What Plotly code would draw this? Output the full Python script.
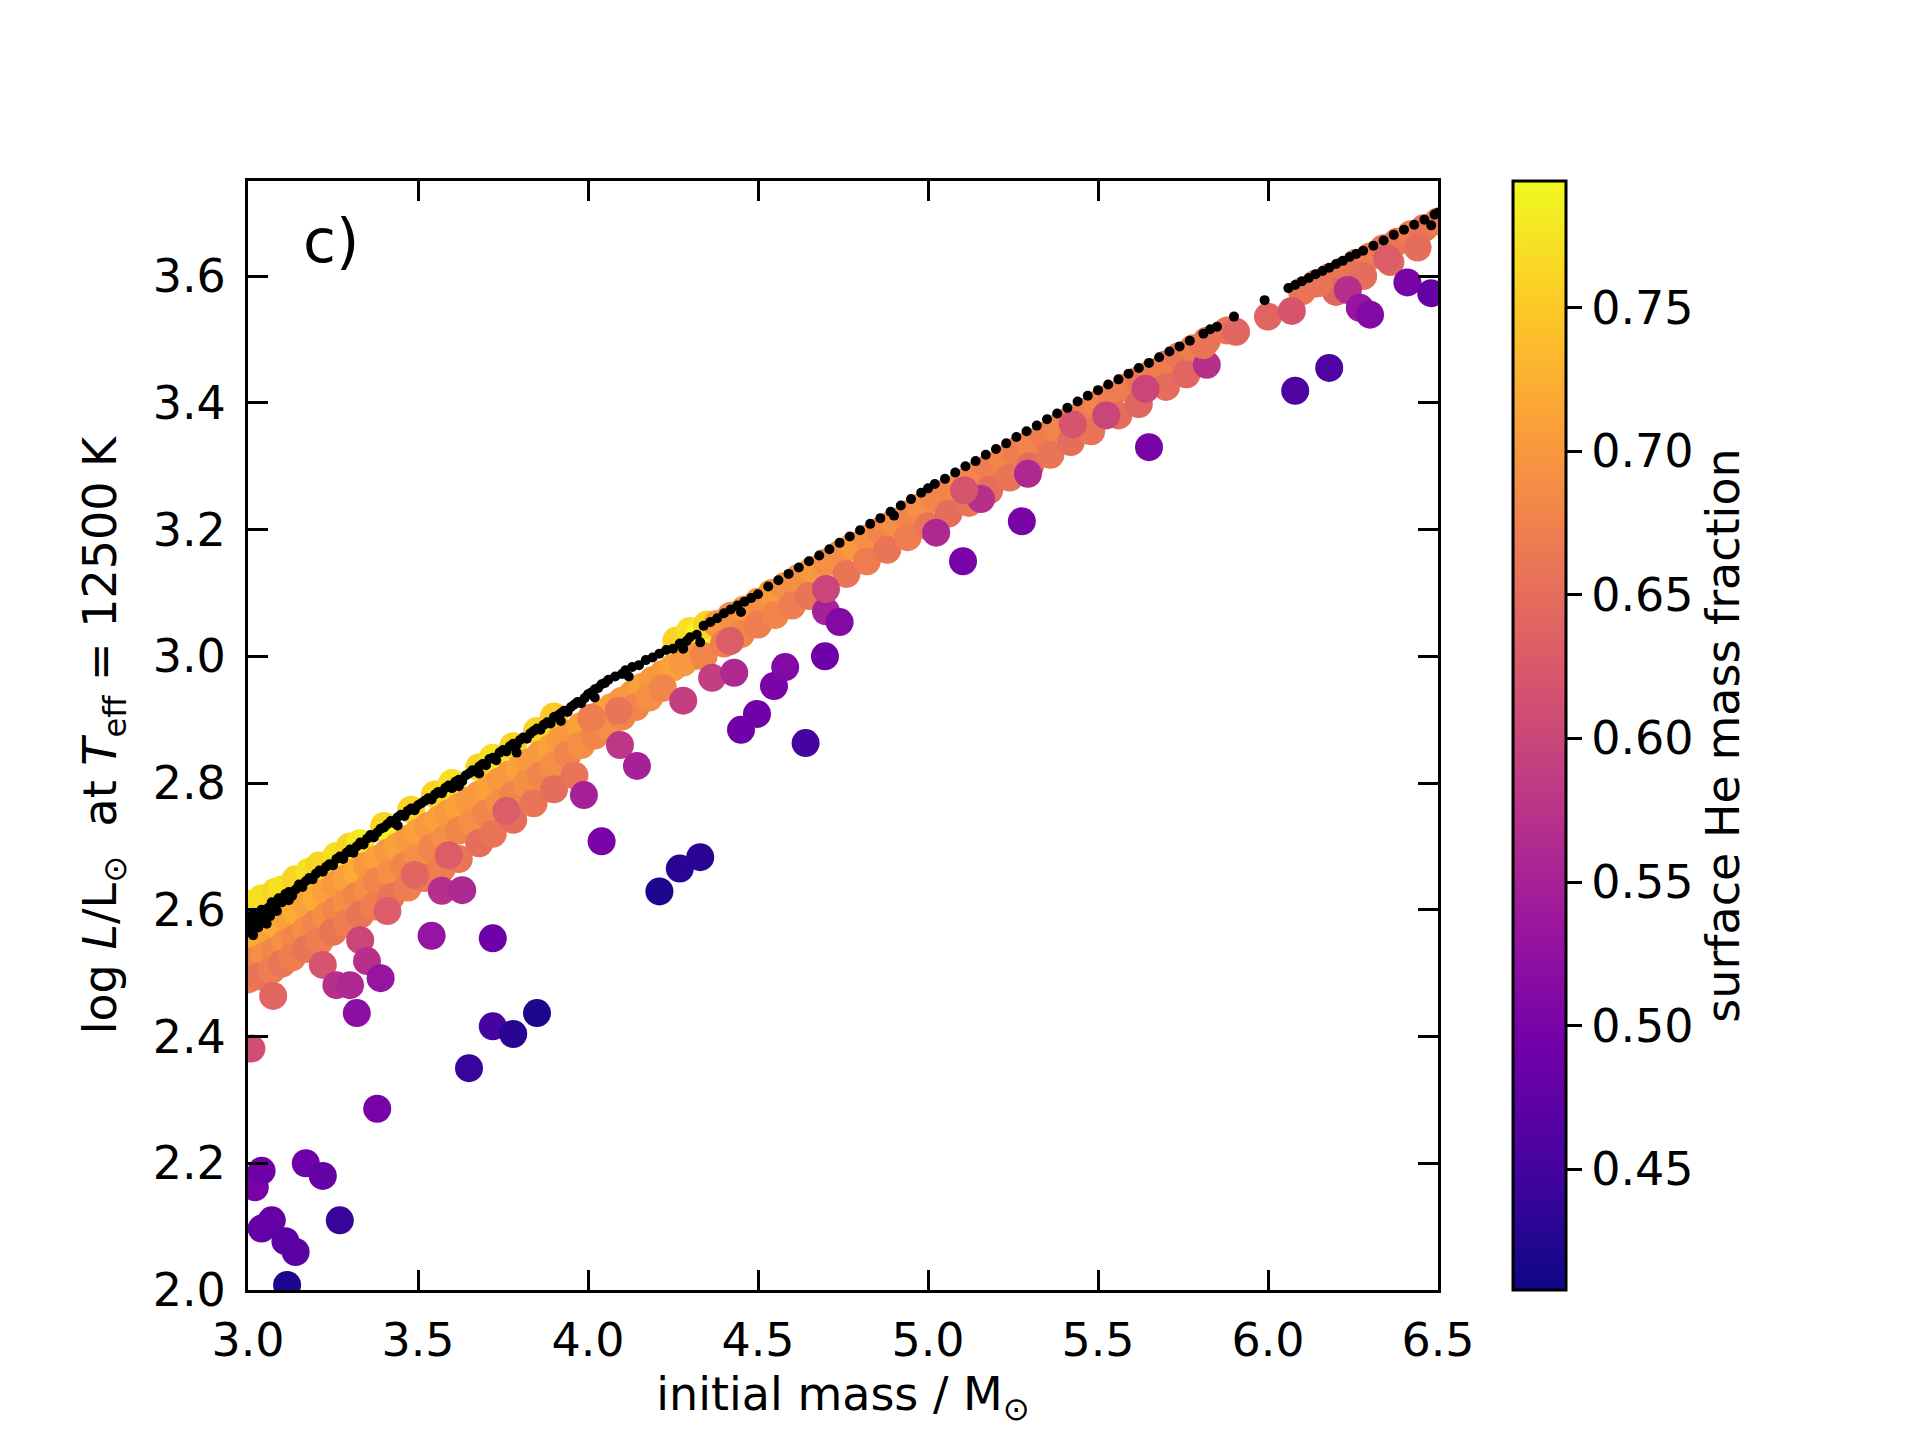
import plotly.graph_objects as go

# black points: reference models (no He enrichment)
ref_mass = [3.00, 3.005, 3.005, 3.01, 3.015, 3.015, 3.02, 3.025, 3.03, 3.03, 3.04, 3.045, 3.05, 3.055,
            3.06, 3.065, 3.07, 3.08, 3.085, 3.09, 3.10, 3.11, 3.12, 3.12, 3.13, 3.14, 3.15, 3.16, 3.17,
            3.18, 3.19, 3.20, 3.21, 3.22, 3.23, 3.24, 3.25, 3.26, 3.27, 3.28, 3.29, 3.30, 3.31, 3.32,
            3.33, 3.34, 3.35, 3.36, 3.37, 3.38, 3.39, 3.40, 3.41, 3.42, 3.43, 3.44, 3.44, 3.45, 3.46,
            3.47, 3.48, 3.49, 3.50, 3.51, 3.52, 3.53, 3.54, 3.55, 3.56, 3.57, 3.58, 3.59, 3.60, 3.61,
            3.62, 3.62, 3.63, 3.64, 3.65, 3.66, 3.67, 3.68, 3.68, 3.69, 3.70, 3.71, 3.72, 3.73, 3.74,
            3.75, 3.76, 3.77, 3.78, 3.79, 3.79, 3.80, 3.81, 3.82, 3.83, 3.84, 3.85, 3.86, 3.87, 3.88,
            3.89, 3.90, 3.91, 3.92, 3.92, 3.93, 3.94, 3.95, 3.96, 3.97, 3.98, 3.99, 4.00, 4.01, 4.02,
            4.02, 4.03, 4.04, 4.05, 4.06, 4.08, 4.10, 4.11, 4.12, 4.13, 4.15, 4.17, 4.19, 4.21, 4.23,
            4.25, 4.27, 4.28, 4.29, 4.30, 4.32, 4.33, 4.34, 4.36, 4.38, 4.40, 4.42, 4.44, 4.45, 4.46,
            4.48, 4.50, 4.53, 4.56, 4.59, 4.62, 4.65, 4.68, 4.71, 4.74, 4.77, 4.80, 4.83, 4.86, 4.89,
            4.90, 4.92, 4.95, 4.98, 5.00, 5.02, 5.05, 5.08, 5.11, 5.14, 5.17, 5.20, 5.23, 5.26, 5.29,
            5.32, 5.35, 5.38, 5.41, 5.44, 5.47, 5.50, 5.53, 5.56, 5.59, 5.62, 5.65, 5.68, 5.71, 5.74,
            5.77, 5.81, 5.83, 5.85, 5.90, 5.99, 6.06, 6.08, 6.10, 6.12, 6.14, 6.16, 6.18, 6.20, 6.22,
            6.24, 6.26, 6.28, 6.31, 6.34, 6.37, 6.40, 6.43, 6.46, 6.48, 6.49, 6.50]
ref_logL = [2.575, 2.590, 2.565, 2.570, 2.585, 2.560, 2.595, 2.578, 2.588, 2.572, 2.600, 2.583, 2.596,
            2.578, 2.603, 2.590, 2.612, 2.606, 2.598, 2.618, 2.612, 2.625, 2.628, 2.615, 2.622, 2.632,
            2.640, 2.636, 2.645, 2.650, 2.648, 2.657, 2.662, 2.660, 2.668, 2.672, 2.670, 2.680, 2.684,
            2.680, 2.690, 2.695, 2.690, 2.700, 2.706, 2.703, 2.712, 2.718, 2.714, 2.722, 2.728, 2.730,
            2.735, 2.740, 2.737, 2.746, 2.733, 2.750, 2.748, 2.756, 2.760, 2.757, 2.765, 2.768, 2.772,
            2.776, 2.774, 2.782, 2.786, 2.784, 2.792, 2.796, 2.792, 2.802, 2.805, 2.795, 2.803, 2.812,
            2.815, 2.820, 2.818, 2.826, 2.815, 2.830, 2.828, 2.838, 2.840, 2.836, 2.848, 2.852, 2.850,
            2.858, 2.862, 2.860, 2.848, 2.868, 2.872, 2.870, 2.878, 2.882, 2.886, 2.884, 2.892, 2.896,
            2.894, 2.904, 2.906, 2.910, 2.898, 2.914, 2.912, 2.920, 2.924, 2.928, 2.926, 2.934, 2.940,
            2.943, 2.948, 2.935, 2.950, 2.956, 2.958, 2.963, 2.968, 2.972, 2.978, 2.968, 2.983, 2.986,
            2.994, 2.998, 3.004, 3.010, 3.012, 3.020, 3.012, 3.024, 3.030, 3.034, 3.022, 3.048, 3.054,
            3.060, 3.068, 3.074, 3.080, 3.070, 3.086, 3.092, 3.098, 3.110, 3.120, 3.130, 3.140, 3.150,
            3.159, 3.169, 3.179, 3.189, 3.199, 3.209, 3.218, 3.228, 3.222, 3.238, 3.248, 3.258, 3.265,
            3.272, 3.280, 3.290, 3.300, 3.308, 3.318, 3.327, 3.336, 3.346, 3.355, 3.364, 3.374, 3.383,
            3.392, 3.402, 3.411, 3.420, 3.429, 3.437, 3.446, 3.455, 3.463, 3.472, 3.481, 3.489, 3.498,
            3.509, 3.516, 3.520, 3.536, 3.562, 3.581, 3.586, 3.592, 3.597, 3.603, 3.608, 3.613, 3.619,
            3.624, 3.630, 3.635, 3.640, 3.648, 3.656, 3.665, 3.673, 3.681, 3.689, 3.680, 3.697, 3.700]

# coloured points: models with surface He mass fraction
model_mass = [
    # yellow, upper edge
    3.00, 3.02, 3.04, 3.08, 3.10, 3.14, 3.18, 3.21, 3.26, 3.30, 3.33, 3.40, 3.42, 3.48, 3.55,
    3.60, 3.68, 3.72, 3.78, 3.85, 3.90, 4.26, 4.30, 4.33, 4.35,
    # orange row
    3.00, 3.02, 3.05, 3.08, 3.11, 3.14, 3.17, 3.20, 3.23, 3.26, 3.29, 3.32, 3.35, 3.38, 3.41,
    3.44, 3.47, 3.50, 3.53, 3.56, 3.59, 3.62, 3.65, 3.68, 3.71, 3.74, 3.77, 3.80, 3.83, 3.86,
    3.89, 3.92, 3.95, 3.98, 4.01, 4.04, 4.07, 4.10, 4.13, 4.16, 4.19, 4.22, 4.25, 4.28, 4.31,
    # third row
    3.00, 3.02, 3.05, 3.08, 3.11, 3.14, 3.17, 3.20, 3.23, 3.26, 3.29, 3.32, 3.35, 3.38, 3.42,
    3.46, 3.50, 3.54, 3.58, 3.62, 3.66, 3.70, 3.74, 3.78, 3.82, 3.86, 3.90, 3.94, 3.98, 4.02,
    4.06, 4.10, 4.14, 4.18, 4.22,
    # fourth row
    3.00, 3.03, 3.07, 3.10, 3.13, 3.17, 3.21, 3.25, 3.29, 3.33, 3.37, 3.42, 3.47, 3.52, 3.57,
    3.62, 3.68, 3.72, 3.78, 3.84, 3.90, 3.96, 4.01, 4.09,
    # higher masses, upper row
    4.38, 4.42, 4.46, 4.50, 4.54, 4.58, 4.62, 4.66, 4.70, 4.74, 4.78, 4.82, 4.86, 4.90, 4.94,
    4.98, 5.02, 5.06, 5.10, 5.14, 5.18, 5.22, 5.26, 5.30, 5.34, 5.38, 5.42, 5.46, 5.50, 5.54,
    5.58, 5.62, 5.66, 5.70, 5.74, 5.78, 5.82, 5.88, 6.10, 6.14, 6.18, 6.22, 6.26, 6.30, 6.34,
    6.38, 6.42, 6.46, 6.50,
    # higher masses, lower row
    4.34, 4.40, 4.45, 4.50, 4.55, 4.60, 4.65, 4.76, 4.82, 4.88, 4.94, 5.00, 5.06, 5.12, 5.18,
    5.24, 5.30, 5.36, 5.42, 5.48, 5.56, 5.62, 5.70, 5.76, 6.20, 6.28, 6.36, 6.44,
    # stragglers below the sequence
    3.074, 3.22, 3.33, 3.41, 3.49, 3.59, 3.76, 3.35, 3.26, 3.30, 3.39, 3.32, 3.54, 3.57, 3.63,
    3.72, 3.01, 3.02, 3.04, 3.04, 3.07, 3.11, 3.14, 3.115, 3.17, 3.22, 3.27, 3.38, 3.65, 3.72,
    3.78, 3.85, 4.21, 4.27, 4.33, 4.094, 4.144, 3.988, 4.04, 4.28, 4.365, 4.43, 4.418, 4.45,
    4.497, 4.547, 4.58, 4.64, 4.697, 4.70, 4.74, 4.70, 5.024, 5.103, 5.156, 5.294, 5.276, 5.65,
    5.524, 5.64, 5.426, 5.106, 5.82, 6.08, 6.18, 6.235, 6.27, 6.30, 6.41, 6.48, 6.00, 6.07,
    5.906, 5.81, 6.35, 6.15,
]
model_logL = [
    2.610, 2.595, 2.618, 2.628, 2.632, 2.648, 2.660, 2.670, 2.685, 2.700, 2.705, 2.732, 2.718,
    2.758, 2.782, 2.800, 2.825, 2.840, 2.858, 2.882, 2.905, 3.025, 3.040, 3.036, 3.050,
    2.555, 2.560, 2.570, 2.578, 2.590, 2.598, 2.608, 2.618, 2.628, 2.640, 2.650, 2.660, 2.670,
    2.680, 2.690, 2.700, 2.712, 2.722, 2.732, 2.742, 2.752, 2.762, 2.772, 2.782, 2.792, 2.803,
    2.814, 2.823, 2.833, 2.845, 2.855, 2.868, 2.878, 2.890, 2.900, 2.910, 2.920, 2.930, 2.940,
    2.952, 2.962, 2.972, 2.982, 2.990, 3.000,
    2.510, 2.520, 2.528, 2.535, 2.548, 2.556, 2.568, 2.578, 2.590, 2.600, 2.612, 2.622, 2.632,
    2.645, 2.658, 2.670, 2.682, 2.698, 2.712, 2.725, 2.738, 2.752, 2.768, 2.782, 2.798, 2.812,
    2.828, 2.845, 2.860, 2.875, 2.890, 2.905, 2.920, 2.935, 2.950,
    2.490, 2.495, 2.505, 2.515, 2.525, 2.538, 2.550, 2.565, 2.578, 2.592, 2.605, 2.620, 2.635,
    2.650, 2.665, 2.680, 2.705, 2.720, 2.742, 2.768, 2.790, 2.812, 2.903, 2.914,
    3.051, 3.064, 3.074, 3.086, 3.100, 3.111, 3.124, 3.136, 3.148, 3.161, 3.174, 3.186, 3.198,
    3.211, 3.224, 3.236, 3.249, 3.261, 3.274, 3.286, 3.298, 3.311, 3.324, 3.336, 3.348, 3.361,
    3.374, 3.386, 3.398, 3.411, 3.424, 3.436, 3.448, 3.461, 3.474, 3.486, 3.498, 3.514, 3.576,
    3.588, 3.598, 3.608, 3.621, 3.631, 3.644, 3.654, 3.666, 3.676, 3.686,
    3.000, 3.020, 3.035, 3.050, 3.065, 3.080, 3.095, 3.130, 3.150, 3.168, 3.188, 3.205, 3.225,
    3.242, 3.262, 3.282, 3.300, 3.318, 3.338, 3.355, 3.380, 3.398, 3.425, 3.445, 3.575, 3.600,
    3.622, 3.645,
    2.464, 2.513, 2.552, 2.598, 2.655, 2.686, 2.756, 2.519, 2.481, 2.481, 2.492, 2.437, 2.559,
    2.630, 2.631, 2.555, 2.381, 2.162, 2.188, 2.097, 2.110, 2.077, 2.060, 2.008, 2.200, 2.180,
    2.110, 2.286, 2.350, 2.416, 2.404, 2.437, 2.629, 2.665, 2.683, 2.860, 2.827, 2.781, 2.708,
    2.930, 2.966, 2.974, 3.024, 2.884, 2.909, 2.953, 2.983, 2.863, 3.000, 3.071, 3.054, 3.106,
    3.195, 3.150, 3.248, 3.288, 3.213, 3.330, 3.380, 3.422, 3.366, 3.262, 3.460, 3.419, 3.455,
    3.578, 3.550, 3.539, 3.590, 3.573, 3.536, 3.545, 3.512, 3.491, 3.628, 3.589,
]
model_Ysurf = [
    0.77, 0.76, 0.77, 0.76, 0.77, 0.76, 0.77, 0.76, 0.77, 0.76, 0.78, 0.76, 0.79, 0.76, 0.76,
    0.77, 0.76, 0.77, 0.76, 0.76, 0.75, 0.76, 0.77, 0.79, 0.76,
    0.71, 0.72, 0.71, 0.72, 0.71, 0.72, 0.71, 0.72, 0.71, 0.70, 0.71, 0.72, 0.70, 0.71, 0.70,
    0.71, 0.70, 0.71, 0.70, 0.71, 0.70, 0.71, 0.70, 0.70, 0.71, 0.70, 0.70, 0.71, 0.70, 0.70,
    0.71, 0.70, 0.70, 0.71, 0.70, 0.70, 0.71, 0.70, 0.70, 0.71, 0.70, 0.70, 0.71, 0.70, 0.70,
    0.69, 0.68, 0.69, 0.68, 0.69, 0.68, 0.69, 0.68, 0.69, 0.68, 0.69, 0.68, 0.69, 0.68, 0.69,
    0.68, 0.69, 0.68, 0.69, 0.68, 0.69, 0.68, 0.69, 0.68, 0.69, 0.68, 0.69, 0.68, 0.69, 0.68,
    0.69, 0.68, 0.68, 0.69, 0.68,
    0.67, 0.66, 0.67, 0.66, 0.67, 0.66, 0.67, 0.66, 0.67, 0.66, 0.67, 0.66, 0.67, 0.66, 0.67,
    0.66, 0.65, 0.66, 0.65, 0.66, 0.65, 0.66, 0.67, 0.66,
    0.70, 0.69, 0.70, 0.69, 0.70, 0.69, 0.69, 0.70, 0.69, 0.69, 0.70, 0.69, 0.68, 0.69, 0.68,
    0.69, 0.68, 0.68, 0.69, 0.68, 0.67, 0.68, 0.67, 0.68, 0.67, 0.68, 0.67, 0.67, 0.68, 0.67,
    0.67, 0.66, 0.67, 0.67, 0.66, 0.67, 0.66, 0.66, 0.66, 0.66, 0.67, 0.66, 0.66, 0.67, 0.66,
    0.66, 0.67, 0.66, 0.67,
    0.68, 0.67, 0.68, 0.67, 0.68, 0.67, 0.66, 0.66, 0.67, 0.66, 0.67, 0.66, 0.65, 0.66, 0.65,
    0.66, 0.65, 0.66, 0.65, 0.66, 0.65, 0.64, 0.65, 0.64, 0.64, 0.65, 0.64, 0.65,
    0.64, 0.62, 0.60, 0.63, 0.64, 0.63, 0.63, 0.57, 0.57, 0.56, 0.53, 0.52, 0.53, 0.57, 0.56,
    0.49, 0.61, 0.50, 0.49, 0.48, 0.48, 0.47, 0.47, 0.42, 0.49, 0.48, 0.44, 0.50, 0.44, 0.45,
    0.43, 0.42, 0.42, 0.43, 0.43, 0.58, 0.55, 0.55, 0.50, 0.59, 0.59, 0.56, 0.63, 0.49, 0.49,
    0.50, 0.51, 0.45, 0.49, 0.55, 0.51, 0.60, 0.56, 0.50, 0.57, 0.56, 0.50, 0.50, 0.60, 0.60,
    0.62, 0.62, 0.57, 0.46, 0.46, 0.57, 0.53, 0.51, 0.50, 0.48, 0.64, 0.62, 0.64, 0.66, 0.63,
    0.66,
]

FONT = "DejaVu Sans"

fig = go.Figure()

fig.add_trace(go.Scatter(
    x=model_mass, y=model_logL, mode="markers",
    marker=dict(size=28, color=model_Ysurf, colorscale="Plasma", cmin=0.408, cmax=0.794,
                line=dict(width=0),
                colorbar=dict(
                    x=1.063, xanchor="left", xpad=0, y=0.5, yanchor="middle", ypad=0,
                    len=1, lenmode="fraction", thickness=53,
                    outlinewidth=3, outlinecolor="black",
                    ticks="outside", ticklen=15, tickwidth=3, tickcolor="black",
                    tickvals=[0.45, 0.50, 0.55, 0.60, 0.65, 0.70, 0.75], tickformat=".2f",
                    tickfont=dict(family=FONT, size=46, color="black"),
                    title=dict(text="surface He mass fraction", side="right",
                               font=dict(family=FONT, size=46, color="black")),
                )),
    showlegend=False, hoverinfo="skip",
))

fig.add_trace(go.Scatter(
    x=ref_mass, y=ref_logL, mode="markers",
    marker=dict(size=10, color="black", line=dict(width=0)),
    showlegend=False, hoverinfo="skip",
))

axis_common = dict(
    showline=True, linewidth=3, linecolor="black", mirror="allticks",
    ticks="inside", ticklen=20, tickwidth=3, tickcolor="black",
    showgrid=False, zeroline=False,
    tickfont=dict(family=FONT, size=46, color="black"),
)

fig.update_xaxes(range=[3.0, 6.5], tickvals=[3.0, 3.5, 4.0, 4.5, 5.0, 5.5, 6.0, 6.5],
                 tickformat=".1f", ticklabelstandoff=8,
                 title=dict(text="initial mass / M<sub>⊙</sub>", standoff=12,
                            font=dict(family=FONT, size=46, color="black")),
                 **axis_common)
fig.update_yaxes(range=[2.0, 3.75], tickvals=[2.0, 2.2, 2.4, 2.6, 2.8, 3.0, 3.2, 3.4, 3.6],
                 tickformat=".1f", ticklabelstandoff=10,
                 title=dict(text="log <i>L</i>/L<sub>⊙</sub>  at <i>T</i><sub>eff</sub> = 12500 K",
                            standoff=22, font=dict(family=FONT, size=46, color="black")),
                 **axis_common)

fig.add_annotation(text="c)", xref="paper", yref="paper", x=0.07, y=0.946,
                   xanchor="center", yanchor="middle", showarrow=False,
                   font=dict(family=FONT, size=60, color="black"))

fig.update_layout(
    width=1920, height=1440,
    margin=dict(l=240, r=490, t=173, b=158, autoexpand=False),
    paper_bgcolor="white", plot_bgcolor="white",
    font=dict(family=FONT, color="black"),
)

fig.write_html("out.html")
